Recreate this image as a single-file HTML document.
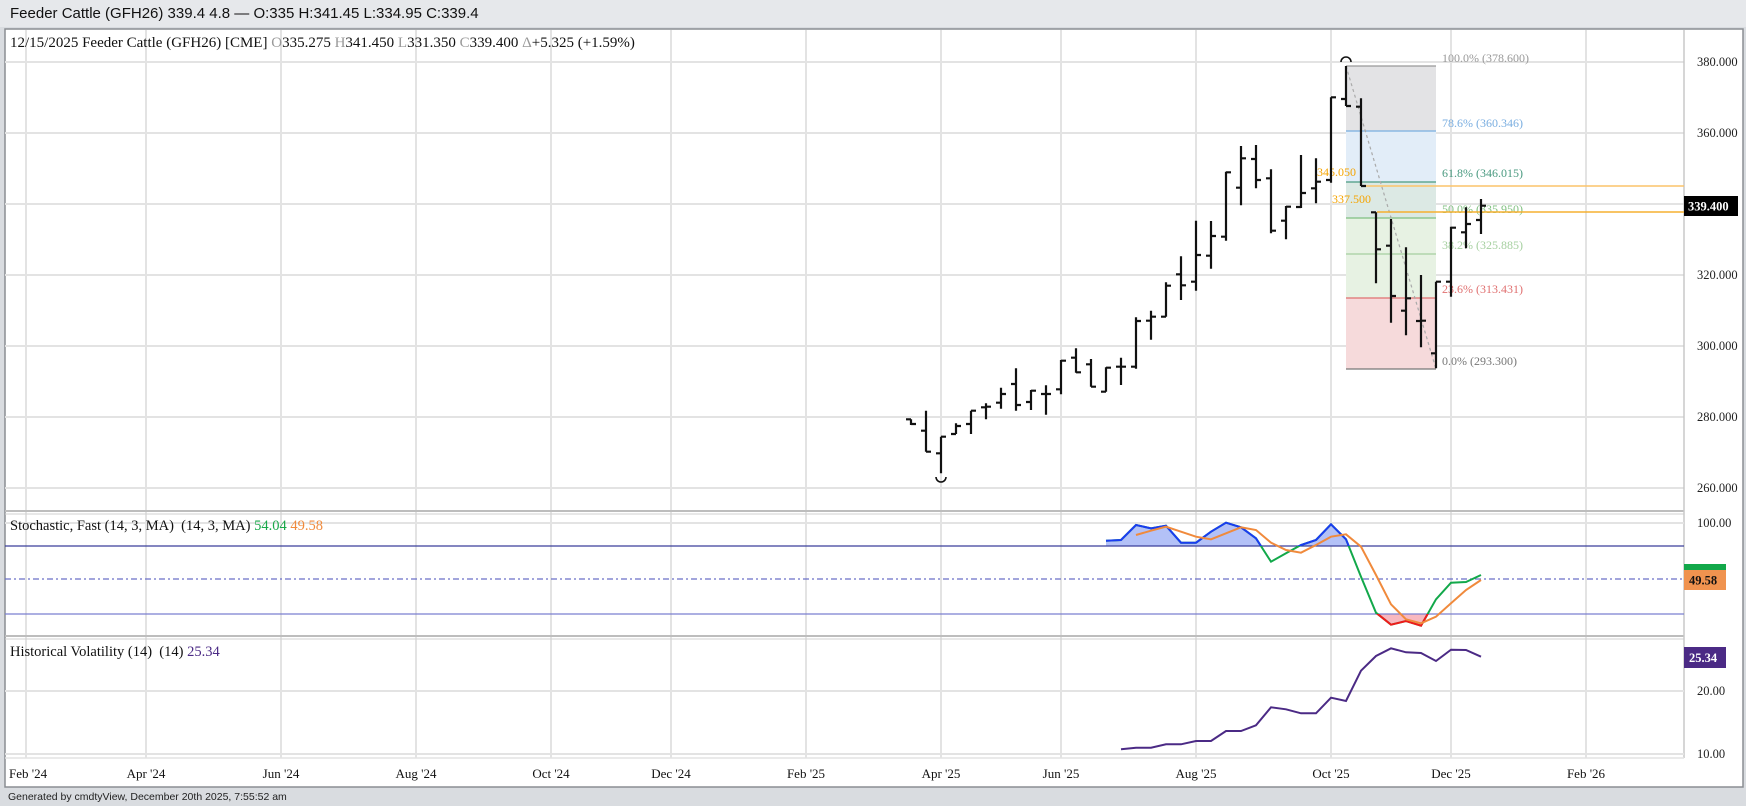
<!DOCTYPE html>
<html><head><meta charset="utf-8"><style>
html,body{margin:0;padding:0;background:#d9dce0;}
body{width:1746px;height:806px;overflow:hidden;position:relative;font-family:"Liberation Serif",serif;}
svg{position:absolute;left:0;top:0}
.pre{white-space:pre}
</style></head><body>
<svg id="s" width="1746" height="806" xmlns="http://www.w3.org/2000/svg" font-family="Liberation Serif, serif">
<rect x="0" y="0" width="1746" height="806" fill="#d9dce0"/>
<rect x="0" y="0" width="1746" height="27" fill="#e6e8eb"/>
<text x="10" y="18" font-family="Liberation Sans, sans-serif" font-size="15" fill="#111">Feeder Cattle (GFH26) 339.4 4.8 — O:335 H:341.45 L:334.95 C:339.4</text>
<rect x="5" y="29" width="1738" height="758" fill="#fff" stroke="#8a8d92" stroke-width="1.5"/>
<g id="grid"></g>
<g id="main"></g>
</svg>
<script>
var NS="http://www.w3.org/2000/svg",g=document.getElementById('main'),gr=document.getElementById('grid');
function el(p,t,a,txt){var e=document.createElementNS(NS,t);for(var k in a)e.setAttribute(k,a[k]);if(txt!=null)e.textContent=txt;p.appendChild(e);return e;}
function ln(p,x1,y1,x2,y2,c,w,extra){var a={x1:x1,y1:y1,x2:x2,y2:y2,stroke:c,'stroke-width':w};for(var k in extra)a[k]=extra[k];return el(p,'line',a);}
function tx(p,x,y,s,c,sz,extra){var a={x:x,y:y,fill:c,'font-size':sz||12.5};for(var k in extra)a[k]=extra[k];return el(p,'text',a,s);}
var months=[[26,"Feb '24"],[146,"Apr '24"],[281,"Jun '24"],[416,"Aug '24"],[551,"Oct '24"],[671,"Dec '24"],[806,"Feb '25"],[941,"Apr '25"],[1061,"Jun '25"],[1196,"Aug '25"],[1331,"Oct '25"],[1451,"Dec '25"],[1586,"Feb '26"]];
months.forEach(function(m){ln(gr,m[0],30,m[0],758,'#e3e3e3',2);tx(gr,m[0],778,m[1],'#111',13,{'text-anchor':m[0]<40?'start':'middle',x:m[0]<40?9:m[0]});});
var pl=[[62,'380.000'],[133,'360.000'],[204,'340.000'],[275,'320.000'],[346,'300.000'],[417,'280.000'],[488,'260.000']];
pl.forEach(function(p){ln(gr,5,p[0],1684,p[0],'#e3e3e3',2);tx(gr,1697,p[0]+4,p[1],'#222',12.5);});
ln(gr,5,511,1684,511,'#bdbdbd',2);ln(gr,5,514,1684,514,'#d0d0d0',1);
ln(gr,5,636,1684,636,'#bdbdbd',2);ln(gr,5,639,1684,639,'#d0d0d0',1);
ln(gr,1684,30,1684,758,'#c8c8c8',1.5);
ln(gr,5,523,1684,523,'#e3e3e3',2);tx(gr,1697,527,'100.00','#222',12.5);
ln(gr,5,691,1684,691,'#e3e3e3',2);tx(gr,1697,695,'20.00','#222',12.5);
ln(gr,5,754,1684,754,'#e3e3e3',2);ln(gr,5,758,1684,758,'#e3e3e3',1.5);tx(gr,1697,758,'10.00','#222',12.5);
var lg=tx(g,10,47,'','#111',15);
lg.innerHTML='12/15/2025 Feeder Cattle (GFH26) [CME] <tspan fill="#999">O</tspan>335.275 <tspan fill="#999">H</tspan>341.450 <tspan fill="#999">L</tspan>331.350 <tspan fill="#999">C</tspan>339.400 <tspan fill="#999">Δ</tspan>+5.325 (+1.59%)';
var l2=tx(g,10,530,'','#111',14.5,{'class':'pre'});l2.innerHTML='Stochastic, Fast (14, 3, MA)  (14, 3, MA) <tspan fill="#1aa84a">54.04</tspan> <tspan fill="#f08a3c">49.58</tspan>';
var l3=tx(g,10,656,'','#111',14.5,{'class':'pre'});l3.innerHTML='Historical Volatility (14)  (14) <tspan fill="#4b2a85">25.34</tspan>';
var fx1=1346,fx2=1436;
var zones=[[66,131,'#e3e3e5'],[131,182,'#e2edf8'],[182,218,'#dce9e4'],[218,298,'#e7f2e3'],[298,369,'#f6dadb']];
zones.forEach(function(z){el(g,'rect',{x:fx1,y:z[0],width:fx2-fx1,height:z[1]-z[0],fill:z[2]});});
var fl=[[66,'#999','100.0% (378.600)',58],[131,'#7aaee0','78.6% (360.346)',123],[182,'#4a9a80','61.8% (346.015)',173],[218,'#80c080','50.0% (335.950)',209],[254,'#a6d0a0','38.2% (325.885)',245],[298,'#e07070','23.6% (313.431)',289],[369,'#777','0.0% (293.300)',361]];
fl.forEach(function(f){ln(g,fx1,f[0],fx2,f[0],f[1],1.3);tx(g,1442,f[3]+4,f[2],f[1],12);});
ln(g,1346,66,1436,369,'#aaa',1.2,{'stroke-dasharray':'3,3'});
ln(g,1362,186,1684,186,'#fcc46a',1.5);tx(g,1317,176,'345.050','#f5a400',12);
ln(g,1377,212,1684,212,'#f5b030',1.5);tx(g,1332,203,'337.500','#f5a400',12);
var B=[[911,419.3,425,419.3,424],[926,410.7,451.7,430.7,451.7],[941,436.7,473.3,453.3,436.7],[956,423.3,434,434,426],[971,410.7,434,424,410.7],[986,403.3,419.3,407.3,406.7],[1001,387.7,408.7,402.7,394],[1016,368.3,410.7,384,405],[1031,390,410,402,390.7],[1046,385.3,414.7,394,394],[1061,360,394.3,389.3,360.7],[1076,348.3,372.7,357.7,372.3],[1091,359,386.7,364.3,386.7],[1106,367.3,391.7,391.7,367.7],[1121,357.7,385,366.7,366.7],[1136,317.3,368.7,366.7,321],[1151,310.7,339.7,320.7,316.7],[1166,282.3,316.7,316.7,285.7],[1181,256.3,300,274.3,285.3],[1196,220.7,290.7,281.7,255],[1211,221,268.7,255.7,236],[1226,171.7,240.7,236.7,172.3],[1241,146,205.3,187.7,158.3],[1256,145,188.3,159,180],[1271,169.3,233.3,178.3,230.7],[1286,206,239.3,220.7,206.7],[1301,155,208,207,193],[1316,158.3,203.3,188.3,181.7],[1331,97.3,182.7,180,97.3],[1346,66,106,99,106],[1361,98.3,186,106.7,186],[1376,212.3,283.3,212.3,249.3],[1391,219,322.7,245.7,296],[1406,247.3,335.3,310.7,298.3],[1421,275,347.3,321,320.7],[1436,281.7,368.3,353.3,281.7],[1451,226.7,296.7,281.7,227.7],[1466,207.3,248.3,232.3,224],[1481,199,234,220,205.7]];
var d='';B.forEach(function(b){d+='M'+b[0]+' '+b[1]+'V'+b[2]+'M'+(b[0]-5)+' '+b[3]+'H'+b[0]+'M'+b[0]+' '+b[4]+'H'+(b[0]+5);});
el(g,'path',{d:d,stroke:'#111',fill:'none','stroke-width':2.2});
el(g,'path',{d:'M1341 62 A5 5 0 0 1 1351 62',stroke:'#111',fill:'none','stroke-width':1.6});
el(g,'path',{d:'M936 477 A5 5 0 0 0 946 477',stroke:'#111',fill:'none','stroke-width':1.6});
el(g,'rect',{x:1684,y:196,width:54,height:20,fill:'#000'});tx(g,1688,210.5,'339.400','#fff',12.5,{'font-weight':'bold'});
function pts(a,ox,oy){return a.map(function(p){return (ox+p[0]/3).toFixed(1)+','+(oy+p[1]/3).toFixed(1);}).join(' ');}
var K=[[48,92],[93,90],[138,45],[183,55],[228,47],[273,98],[318,98],[363,65],[408,38],[453,52],[498,85],[543,155],[588,130],[633,105],[678,90],[723,43],[768,88],[813,200],[858,308],[903,344],[948,333],[993,347],[1038,268],[1083,218],[1128,216],[1173,195]];
var D=[[138,75],[183,62],[228,50],[273,65],[318,80],[363,88],[408,70],[453,52],[498,60],[543,98],[588,120],[633,128],[678,105],[723,80],[768,73],[813,110],[858,195],[903,283],[948,328],[993,340],[1038,320],[1083,280],[1128,240],[1173,210]];
var kp=pts(K,1090,510),dp=pts(D,1090,510);
var defs=el(g,'defs',{});
var c1=el(defs,'clipPath',{id:'up'});el(c1,'rect',{x:0,y:515,width:1684,height:31});
var c2=el(defs,'clipPath',{id:'dn'});el(c2,'rect',{x:0,y:614,width:1684,height:22});
var kx0=(1090+48/3),kx1=(1090+1173/3);
el(g,'polygon',{points:kx0+',546 '+kp+' '+kx1+',546',fill:'#b3c1f7','clip-path':'url(#up)'});
el(g,'polygon',{points:kx0+',614 '+kp+' '+kx1+',614',fill:'#f8b8c0','clip-path':'url(#dn)'});
ln(g,5,546,1684,546,'#3a3f9a',1.3);
ln(g,5,614,1684,614,'#7a7fd0',1.3);
ln(g,5,579,1684,579,'#6a6fc8',1.2,{'stroke-dasharray':'6,3,2,3'});
el(g,'polyline',{points:kp,fill:'none',stroke:'#12a84a','stroke-width':2});
el(g,'polyline',{points:kp,fill:'none',stroke:'#1a3cf0','stroke-width':2,'clip-path':'url(#up)'});
el(g,'polyline',{points:kp,fill:'none',stroke:'#f01a1a','stroke-width':2,'clip-path':'url(#dn)'});
el(g,'polyline',{points:dp,fill:'none',stroke:'#f08a3c','stroke-width':2});
el(g,'rect',{x:1684,y:564,width:42,height:6,fill:'#12a84a'});
el(g,'rect',{x:1684,y:570,width:42,height:20,fill:'#f0934f'});tx(g,1689,584.5,'49.58','#111',12.5,{'font-weight':'bold'});
var H=[[93,718],[138,713],[183,713],[228,703],[273,703],[318,693],[363,693],[408,663],[453,663],[498,646],[543,592],[588,598],[633,610],[678,610],[723,563],[768,573],[813,482],[858,438],[903,415],[948,427],[993,429],[1038,453],[1083,419],[1128,420],[1173,440]];
el(g,'polyline',{points:pts(H,1090,510),fill:'none',stroke:'#4b2a85','stroke-width':2});
el(g,'rect',{x:1684,y:647,width:42,height:21,fill:'#4b2a85'});tx(g,1689,662,'25.34','#fff',12.5,{'font-weight':'bold'});
tx(g,8,800,'Generated by cmdtyView, December 20th 2025, 7:55:52 am','#222',10.5,{'font-family':'Liberation Sans, sans-serif'});
</script>
</body></html>
